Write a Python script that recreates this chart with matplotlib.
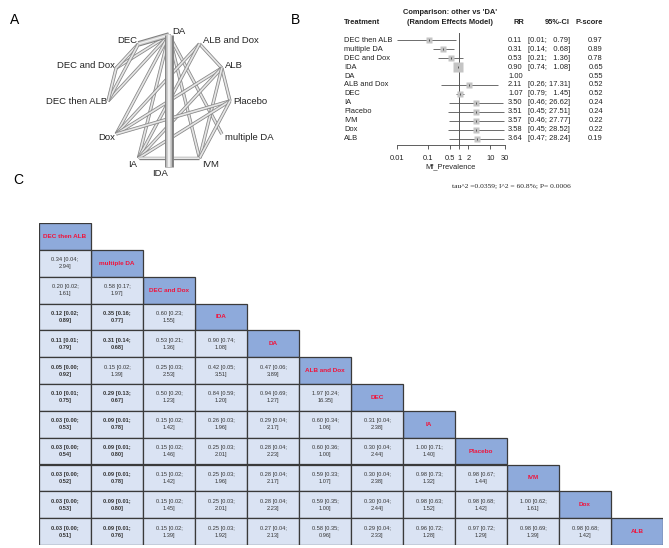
import numpy as np
import matplotlib.pyplot as plt
from matplotlib.patches import Rectangle
from matplotlib.transforms import blended_transform_factory

plt.rcParams['font.family'] = ['Liberation Sans', 'DejaVu Sans']

# treatments (same order in forest plot and league table)
treat = ['DEC then ALB', 'multiple DA', 'DEC and Dox', 'IDA', 'DA', 'ALB and Dox',
         'DEC', 'IA', 'Placebo', 'IVM', 'Dox', 'ALB']

# forest plot, other vs 'DA'
rr = [0.11, 0.31, 0.53, 0.90, 1.00, 2.11, 1.07, 3.50, 3.51, 3.57, 3.58, 3.64]
ci_lo = [0.01, 0.14, 0.21, 0.74, np.nan, 0.26, 0.79, 0.46, 0.45, 0.46, 0.45, 0.47]
ci_hi = [0.79, 0.68, 1.36, 1.08, np.nan, 17.31, 1.45, 26.62, 27.51, 27.77, 28.52, 28.24]
pscore = [0.97, 0.89, 0.78, 0.65, 0.55, 0.52, 0.52, 0.24, 0.24, 0.22, 0.22, 0.19]
weight = [1, 1, 1, 1.6, 0, 1, 1.1, 1, 1, 1, 1, 1]

# network: nodes around the circle and edges (number of studies)
net_nodes = ['DA', 'DEC', 'DEC and Dox', 'DEC then ALB', 'Dox', 'IA', 'IDA',
             'IVM', 'multiple DA', 'Placebo', 'ALB', 'ALB and Dox']
net_edges = [('DA', 'DEC', 3), ('DA', 'DEC and Dox', 1), ('DA', 'DEC then ALB', 1),
             ('DEC', 'DEC and Dox', 1), ('DEC', 'DEC then ALB', 1),
             ('DEC and Dox', 'DEC then ALB', 1), ('DA', 'IA', 1), ('DA', 'Dox', 1),
             ('DA', 'multiple DA', 1), ('DA', 'IVM', 1),
             ('ALB and Dox', 'ALB', 1), ('ALB and Dox', 'Dox', 1), ('ALB and Dox', 'IA', 1),
             ('ALB', 'Dox', 1), ('ALB', 'IA', 1), ('ALB', 'Placebo', 1), ('ALB', 'IVM', 1),
             ('Placebo', 'Dox', 1), ('Placebo', 'IA', 1), ('Placebo', 'IVM', 1),
             ('IA', 'IVM', 1), ('DA', 'IDA', 6)]

# league table, lower triangle rows (row i has i entries)
league = [
    [],
    ['0.34 [0.04; 2.94]'],
    ['0.20 [0.02; 1.61]', '0.58 [0.17; 1.97]'],
    ['0.12 [0.02; 0.89]', '0.35 [0.16; 0.77]', '0.60 [0.23; 1.55]'],
    ['0.11 [0.01; 0.79]', '0.31 [0.14; 0.68]', '0.53 [0.21; 1.36]', '0.90 [0.74; 1.08]'],
    ['0.05 [0.00; 0.92]', '0.15 [0.02; 1.39]', '0.25 [0.03; 2.53]', '0.42 [0.05; 3.51]',
     '0.47 [0.06; 3.89]'],
    ['0.10 [0.01; 0.75]', '0.29 [0.13; 0.67]', '0.50 [0.20; 1.23]', '0.84 [0.59; 1.20]',
     '0.94 [0.69; 1.27]', '1.97 [0.24; 16.35]'],
    ['0.03 [0.00; 0.53]', '0.09 [0.01; 0.78]', '0.15 [0.02; 1.42]', '0.26 [0.03; 1.96]',
     '0.29 [0.04; 2.17]', '0.60 [0.34; 1.06]', '0.31 [0.04; 2.38]'],
    ['0.03 [0.00; 0.54]', '0.09 [0.01; 0.80]', '0.15 [0.02; 1.46]', '0.25 [0.03; 2.01]',
     '0.28 [0.04; 2.23]', '0.60 [0.36; 1.00]', '0.30 [0.04; 2.44]', '1.00 [0.71; 1.40]'],
    ['0.03 [0.00; 0.52]', '0.09 [0.01; 0.78]', '0.15 [0.02; 1.42]', '0.25 [0.03; 1.96]',
     '0.28 [0.04; 2.17]', '0.59 [0.33; 1.07]', '0.30 [0.04; 2.38]', '0.98 [0.73; 1.32]',
     '0.98 [0.67; 1.44]'],
    ['0.03 [0.00; 0.53]', '0.09 [0.01; 0.80]', '0.15 [0.02; 1.45]', '0.25 [0.03; 2.01]',
     '0.28 [0.04; 2.23]', '0.59 [0.35; 1.00]', '0.30 [0.04; 2.44]', '0.98 [0.63; 1.52]',
     '0.98 [0.68; 1.42]', '1.00 [0.62; 1.61]'],
    ['0.03 [0.00; 0.51]', '0.09 [0.01; 0.76]', '0.15 [0.02; 1.39]', '0.25 [0.03; 1.92]',
     '0.27 [0.04; 2.13]', '0.58 [0.35; 0.96]', '0.29 [0.04; 2.33]', '0.96 [0.72; 1.28]',
     '0.97 [0.72; 1.29]', '0.98 [0.69; 1.39]', '0.98 [0.68; 1.42]'],
]
bold_cells = {(3, 0), (3, 1), (4, 0), (4, 1), (5, 0), (6, 0), (6, 1), (7, 0), (7, 1),
              (8, 0), (8, 1), (9, 0), (9, 1), (10, 0), (10, 1), (11, 0), (11, 1)}

W, H = 669, 548
fig = plt.figure(figsize=(W / 100, H / 100), dpi=100)


def box(x0, y0, x1, y1):
    return [x0 / W, 1 - y1 / H, (x1 - x0) / W, (y1 - y0) / H]


def fx(x):
    return x / W


def fy(y):
    return 1 - y / H


# panel letters
for lab, x, y in [('A', 15, 20), ('B', 295, 20), ('C', 18, 180)]:
    fig.text(fx(x), fy(y), lab, fontsize=10, ha='center', va='center')

# ---------- A: network ----------
axn = fig.add_axes(box(0, 0, 300, 200))
axn.set_xlim(0, 300)
axn.set_ylim(200, 0)
axn.axis('off')
cx, cy, rx, ry = 169, 101, 61, 66
ang = np.arange(len(net_nodes)) * 2 * np.pi / len(net_nodes)
pos = {n: (cx - rx * np.sin(a), cy - ry * np.cos(a)) for n, a in zip(net_nodes, ang)}

for a, b, n in sorted(net_edges, key=lambda e: e[2]):
    (x1, y1), (x2, y2) = pos[a], pos[b]
    lw = 1.6 + 0.8 * n
    axn.plot([x1, x2], [y1, y2], color='#808080', lw=lw, solid_capstyle='butt', zorder=n)
    axn.plot([x1, x2], [y1, y2], color='#cfcfcf', lw=lw * 0.62, solid_capstyle='butt', zorder=n)
    axn.plot([x1, x2], [y1, y2], color='#f2f2f2', lw=lw * 0.22, solid_capstyle='butt', zorder=n)

for n, a in zip(net_nodes, ang):
    x, y = pos[n]
    s, c = -np.sin(a), np.cos(a)
    if n == 'DA':
        ha = 'left'
    elif n == 'IDA':
        ha = 'right'
    else:
        ha = 'left' if s > 0 else 'right'
    dx = 3 if ha == 'left' else -1
    dy = -4 * c if abs(c) > 0.6 else (-5 * c * 1.2)
    if c < -0.6:
        dy = 6
    axn.text(x + dx, y + dy, n, fontsize=6.8, ha=ha, va='center', color='#222222', zorder=20)

# ---------- B: forest plot ----------
axf = fig.add_axes(box(397, 33, 505, 145))
axf.set_xscale('log')
axf.set_xlim(0.01, 30)
axf.set_ylim(11.67, -0.78)
for sp in ['top', 'left', 'right']:
    axf.spines[sp].set_visible(False)
axf.spines['bottom'].set_linewidth(0.6)
axf.spines['bottom'].set_color('#444444')
axf.set_yticks([])
ticks = [0.01, 0.1, 0.5, 1, 2, 10, 30]
axf.set_xticks(ticks)
axf.set_xticklabels(['0.01', '0.1', '0.5', '1', '2', '10', '30'])
axf.minorticks_off()
axf.tick_params(axis='x', labelsize=5.4, length=3, width=0.6, color='#444444', pad=4,
                labelcolor='#222222')
axf.set_xlabel('Mf_Prevalence', fontsize=5.4, labelpad=1, color='#222222')
axf.axvline(1, color='#555555', lw=0.7)

rows = np.arange(len(treat))
for i in rows:
    if np.isnan(ci_lo[i]):
        continue
    axf.hlines(i, ci_lo[i], ci_hi[i], color='#555555', lw=0.6, zorder=2)
    axf.plot(rr[i], i, marker='s', ms=4.2 * weight[i], color='#c4c4c4', mec='none',
             zorder=3, clip_on=False)
    axf.plot(rr[i], i, marker='|', ms=2, mew=0.6, color='#444444', zorder=4)

tr = blended_transform_factory(fig.transFigure, axf.transData)
for i in rows:
    axf.text(fx(344), i, treat[i], transform=tr, fontsize=5.4, va='center', ha='left',
             color='#222222')
    axf.text(fx(508), i, f'{rr[i]:.2f}', transform=tr, fontsize=5.4, va='center',
             ha='left', color='#222222')
    if not np.isnan(ci_lo[i]):
        hi_s = f'{ci_hi[i]:.2f}'
        if len(hi_s) < 5:
            hi_s = '  ' + hi_s
        axf.text(fx(570), i, f'[{ci_lo[i]:.2f}; {hi_s}]', transform=tr, fontsize=5.4,
                 va='center', ha='right', color='#222222')
    axf.text(fx(603), i, f'{pscore[i]:.2f}', transform=tr, fontsize=5.4, va='center',
             ha='right', color='#222222')

hdr = dict(fontsize=5.4, fontweight='bold', va='center', color='#222222')
fig.text(fx(344), fy(22), 'Treatment', ha='left', **hdr)
fig.text(fx(450), fy(13), "Comparison: other vs 'DA'", ha='center', **hdr)
fig.text(fx(450), fy(22), '(Random Effects Model)', ha='center', **hdr)
fig.text(fx(519), fy(22), 'RR', ha='center', **hdr)
fig.text(fx(570), fy(22), '95%-CI', ha='right', **hdr)
fig.text(fx(603), fy(22), 'P-score', ha='right', **hdr)
fig.text(fx(511), fy(186), 'tau^2 =0.0359; I^2 = 60.8%; P= 0.0006', ha='center',
         va='center', fontsize=5.4, family='Liberation Serif', color='#222222')

# ---------- C: league table ----------
axl = fig.add_axes(box(39, 223, 663, 545))
axl.set_xlim(0, 12)
axl.set_ylim(12, 0)
axl.axis('off')
for i in rows:
    axl.add_patch(Rectangle((i, i), 1, 1, fc='#8eaadb', ec='#3a3a3a', lw=0.9))
    axl.text(i + 0.5, i + 0.5, treat[i], fontsize=4.6, fontweight='bold', color='#f0143c',
             ha='center', va='center')
    for j, val in enumerate(league[i]):
        axl.add_patch(Rectangle((j, i), 1, 1, fc='#dae3f3', ec='#3a3a3a', lw=0.9))
        a, b = val.split('; ')
        axl.text(j + 0.5, i + 0.5, a + ';\n' + b, fontsize=4.1, ha='center', va='center',
                 linespacing=1.5, color='#333333',
                 fontweight='bold' if (i, j) in bold_cells else 'normal')

fig.savefig('out.png', dpi=100)
